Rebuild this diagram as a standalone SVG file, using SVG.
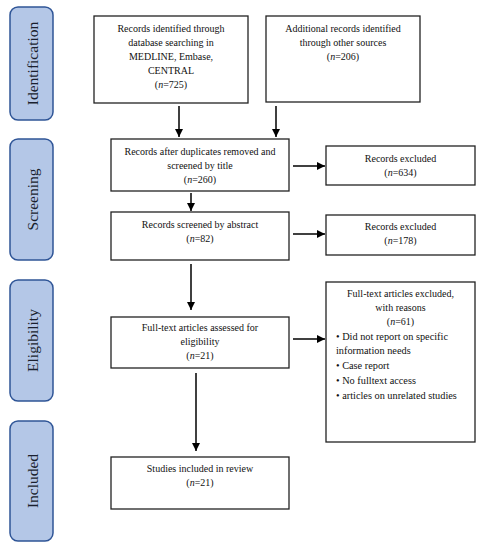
<svg xmlns="http://www.w3.org/2000/svg" width="481" height="550" viewBox="0 0 481 550">
<style>
  .phase rect { fill: #B4C7E7; stroke: #2F5597; stroke-width: 1.5; }
  .phase text { font-family: "Liberation Serif", "Times New Roman", serif; font-size: 15.5px; fill: #1A1F2E; text-anchor: middle; }
  .box rect { fill: #FFFFFF; stroke: #222222; stroke-width: 1.3; }
  .box text { font-family: "Liberation Serif", "Times New Roman", serif; font-size: 10px; fill: #111111; text-anchor: middle; }
  .box text.left { text-anchor: start; font-size: 10.3px; }
  .conn line { stroke: #000000; stroke-width: 1.5; marker-end: url(#ah); }
</style>
<defs>
  <marker id="ah" markerUnits="userSpaceOnUse" markerWidth="8" markerHeight="8" refX="8" refY="4" orient="auto">
    <path d="M0,0 L8,4 L0,8 z" fill="#000000"/>
  </marker>
</defs>
<rect width="481" height="550" fill="#FFFFFF"/>

<g id="phase-identification" class="phase">
  <rect x="10" y="7" width="43" height="113" rx="8"/>
  <text transform="translate(37.5,63.5) rotate(-90)">Identification</text>
</g>
<g id="phase-screening" class="phase">
  <rect x="10" y="139" width="43" height="121" rx="8"/>
  <text transform="translate(37.5,199.5) rotate(-90)">Screening</text>
</g>
<g id="phase-eligibility" class="phase">
  <rect x="10" y="280" width="43" height="121" rx="8"/>
  <text transform="translate(37.5,340.5) rotate(-90)">Eligibility</text>
</g>
<g id="phase-included" class="phase">
  <rect x="10" y="421" width="43" height="120" rx="8"/>
  <text transform="translate(37.5,481) rotate(-90)">Included</text>
</g>

<g id="box-database" class="box">
  <rect x="94" y="16" width="154" height="87"/>
  <text x="171" y="32">Records identified  through</text>
  <text x="171" y="46">database searching  in</text>
  <text x="171" y="60">MEDLINE, Embase,</text>
  <text x="171" y="74">CENTRAL</text>
  <text x="171" y="88">(<tspan font-style="italic">n</tspan>=725)</text>
</g>
<g id="box-other" class="box">
  <rect x="266" y="16" width="154" height="86"/>
  <text x="343" y="32">Additional records identified</text>
  <text x="343" y="46">through other sources</text>
  <text x="343" y="60">(<tspan font-style="italic">n</tspan>=206)</text>
</g>
<g id="box-dedup" class="box">
  <rect x="111" y="139" width="178" height="52"/>
  <text x="200" y="155">Records after duplicates removed and</text>
  <text x="200" y="169">screened by title</text>
  <text x="200" y="183">(<tspan font-style="italic">n</tspan>=260)</text>
</g>
<g id="box-excl1" class="box">
  <rect x="326" y="146" width="149" height="39"/>
  <text x="400.5" y="162">Records excluded</text>
  <text x="400.5" y="176">(<tspan font-style="italic">n</tspan>=634)</text>
</g>
<g id="box-abstract" class="box">
  <rect x="111" y="212" width="178" height="48"/>
  <text x="200" y="228">Records screened by abstract</text>
  <text x="200" y="242">(<tspan font-style="italic">n</tspan>=82)</text>
</g>
<g id="box-excl2" class="box">
  <rect x="326" y="215" width="149" height="40"/>
  <text x="400.5" y="230">Records excluded</text>
  <text x="400.5" y="244">(<tspan font-style="italic">n</tspan>=178)</text>
</g>
<g id="box-fulltext" class="box">
  <rect x="111" y="317" width="178" height="51"/>
  <text x="200" y="331">Full-text articles assessed for</text>
  <text x="200" y="345">eligibility</text>
  <text x="200" y="359">(<tspan font-style="italic">n</tspan>=21)</text>
</g>
<g id="box-excl3" class="box">
  <rect x="326" y="282" width="149" height="160"/>
  <text x="400.5" y="297">Full-text articles excluded,</text>
  <text x="400.5" y="311">with reasons</text>
  <text x="400.5" y="325">(<tspan font-style="italic">n</tspan>=61)</text>
  <text class="left" x="336" y="340">•  Did not report on specific</text>
  <text class="left" x="336" y="354">information needs</text>
  <text class="left" x="336" y="369">•  Case report</text>
  <text class="left" x="336" y="383.5">•  No fulltext access</text>
  <text class="left" x="336" y="398.5">•  articles on unrelated studies</text>
</g>
<g id="box-included" class="box">
  <rect x="111" y="457" width="178" height="52"/>
  <text x="200" y="472">Studies included in review</text>
  <text x="200" y="486">(<tspan font-style="italic">n</tspan>=21)</text>
</g>

<g id="connectors" class="conn">
  <line x1="179" y1="106" x2="179" y2="137"/>
  <line x1="276" y1="106" x2="276" y2="137"/>
  <line x1="293" y1="166" x2="325" y2="166"/>
  <line x1="191" y1="193" x2="191" y2="211"/>
  <line x1="293" y1="234" x2="325" y2="234"/>
  <line x1="191" y1="264" x2="191" y2="310"/>
  <line x1="293" y1="339" x2="325" y2="339"/>
  <line x1="196" y1="373" x2="196" y2="451"/>
</g>
</svg>
